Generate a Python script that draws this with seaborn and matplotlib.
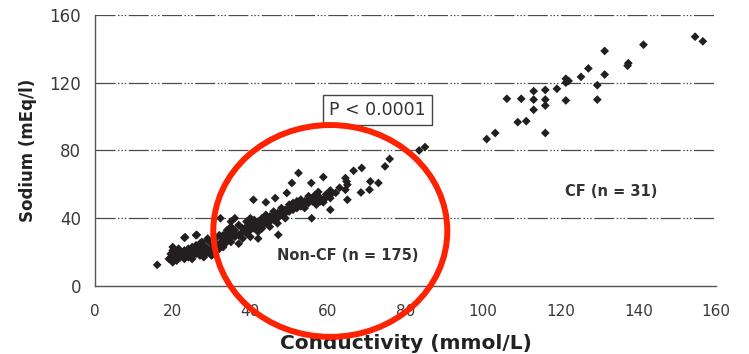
import matplotlib
matplotlib.use("Agg")
import matplotlib.pyplot as plt
from matplotlib.patches import Ellipse
import seaborn as sns
import pandas as pd

# ---- data ----
noncf_x = [16, 19, 19.5, 20, 20, 20.5, 21, 21, 21.5, 22, 22, 22.5, 23, 23, 23.5, 24, 24, 24.5,
           25, 25, 25.5, 26, 26, 26.5, 27, 27, 27.5, 28, 28, 28.5, 29, 29, 29.5, 30, 30, 30.5,
           31, 31, 31.5, 32, 32, 32.5, 33, 33, 33.5, 34, 34, 35, 35, 23, 26, 29, 31, 20, 27,
           23.2, 26.2, 32.3,
           33, 34, 34, 35, 35, 36, 36, 37, 37, 38, 38, 38, 39, 39, 39, 40, 40, 40, 40, 41, 41, 41,
           42, 42, 42, 43, 43, 43, 44, 44, 44, 44, 45, 45, 45, 46, 46, 46, 46.4, 47, 47, 47, 47.2,
           48, 48, 48, 49, 49, 49, 49.4, 50, 50, 50, 50.7, 51, 51, 51, 52, 52, 52, 52.4, 53, 53, 53,
           54, 54, 54, 55, 55, 55, 55.7, 55.8, 56, 56, 56.7, 57, 57, 58, 58, 58.8, 58.8, 59, 60.6,
           60.6, 60.6, 40.8, 36, 42, 37, 35,
           64.5, 64.8, 65, 64.5, 65, 66.6, 68.7, 70.9, 73, 70.7, 68.5, 74.7, 75.9, 60.6, 62, 63,
           59.5, 57.5, 28, 30, 33, 25, 36, 39]
noncf_y = [12.5, 16, 19, 14, 21, 17, 15, 19, 22, 17, 20, 18, 16, 21, 19, 17, 22, 20,
           18, 23, 20, 19, 24, 21, 18, 22, 26, 20, 24, 19, 22, 27, 21, 18, 25, 23,
           21, 28, 24, 22, 30, 26, 23, 28, 25, 27, 31, 26, 29, 28.5, 30, 28, 20, 23, 25,
           28.8, 30.2, 40,
           30, 33, 27, 31, 35, 29, 33, 30, 36, 32, 34, 28, 35, 31, 38, 33, 36, 40, 29, 34, 37, 39,
           35, 38, 32, 36, 40, 34, 37, 39, 42, 49.4, 38, 41, 35, 39, 42, 44, 51.9, 40, 43, 37, 30.2,
           42, 44, 46, 43, 45, 40, 54.9, 44, 46, 48, 60.8, 45, 47, 49, 46, 48, 50, 66.7, 47, 49, 51,
           48, 50, 46, 49, 51, 53, 60.8, 40, 50, 52, 53.8, 51, 48, 50, 52, 49.4, 64.3, 51, 56.4,
           53.8, 45, 50.9, 40, 28, 25, 38,
           63.7, 61.7, 59.8, 56.8, 50.9, 68, 69.7, 61.7, 60.8, 56.8, 55.2, 70.6, 75, 51.9, 55, 58,
           54, 55.5, 17, 20, 26, 16, 31, 34]

cf_x = [83.5, 85, 100.9, 103.1, 106.1, 108.9, 111.1, 109.8, 113, 113, 113, 116, 116, 116, 116,
        119, 121.3, 121.3, 121.3, 125.2, 127.1, 129.4, 129.4, 131.3, 131.3, 137.2, 137.4,
        141.3, 154.6, 156.6, 122]
cf_y = [80, 82, 86.7, 90.3, 110.5, 96.7, 97.3, 110.5, 115, 110, 104, 115.7, 110, 106.5, 90.3,
        116.4, 122.3, 120, 109.5, 123.4, 128.4, 118.5, 110, 138.7, 124.8, 130, 131.5,
        142.4, 147.1, 144.4, 121]

df = pd.DataFrame({
    "Conductivity": noncf_x + cf_x,
    "Sodium": noncf_y + cf_y,
    "group": ["Non-CF"] * len(noncf_x) + ["CF"] * len(cf_x),
})

x_ticks = [0, 20, 40, 60, 80, 100, 120, 140, 160]
y_ticks = [0, 40, 80, 120, 160]

sns.set_style("white")
plt.rcParams["font.family"] = ["DejaVu Sans"]

fig = plt.figure(figsize=(7.49, 3.54), dpi=100)
ax = fig.add_axes([0.127, 0.192, 0.829, 0.766])

# grid lines (dash-dot)
for yv in y_ticks[1:]:
    ax.axhline(yv, color="#4a4a4a", lw=0.9, dashes=(16, 2, 1.2, 1.5, 1.2, 1.5, 1.2, 2), zorder=1)

sns.scatterplot(data=df, x="Conductivity", y="Sodium", marker="D", s=20,
                color="#231f20", edgecolor="none", linewidth=0, legend=False, ax=ax, zorder=3)

ax.set_xlim(0, 160)
ax.set_ylim(0, 160)
ax.set_xticks(x_ticks)
ax.set_yticks(y_ticks)
ax.tick_params(axis="both", direction="out", length=4, width=0.9, color="#555555",
               labelcolor="#3a3a3a")
ax.tick_params(axis="x", labelsize=11, pad=9)
ax.tick_params(axis="y", labelsize=12, pad=6)
for side in ["top", "right"]:
    ax.spines[side].set_visible(False)
for side in ["left", "bottom"]:
    ax.spines[side].set_color("#555555")
    ax.spines[side].set_linewidth(1.0)

ax.set_xlabel("Conductivity (mmol/L)", fontsize=14.5, fontweight="bold", color="#222222", labelpad=11)
ax.set_ylabel("Sodium (mEq/l)", fontsize=12, fontweight="bold", color="#222222", labelpad=9)

ax.text(72.7, 104, "P < 0.0001", fontsize=12.5, color="#333333", ha="center", va="center",
        bbox=dict(boxstyle="square,pad=0.35", fc="white", ec="#444444", lw=1.0), zorder=4)
ax.text(65, 18.3, "Non-CF (n = 175)", fontsize=10.5, fontweight="bold", color="#333333",
        ha="center", va="center", zorder=4)
ax.text(133, 55.6, "CF (n = 31)", fontsize=10.5, fontweight="bold", color="#333333",
        ha="center", va="center", zorder=4)

circle = Ellipse((60.6, 32.5), width=60.3, height=125, fill=False, ec="#ff2200", lw=4.3,
                 clip_on=False, zorder=5)
ax.add_patch(circle)

fig.savefig("out.png", dpi=100)
